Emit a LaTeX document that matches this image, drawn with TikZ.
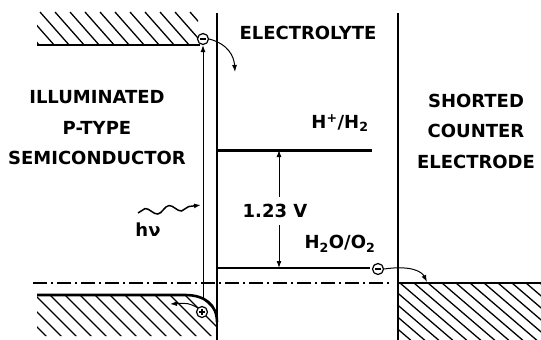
\documentclass[tikz,border=0pt]{standalone}
\usepackage{fontspec}
\setmainfont{DejaVu Sans}
\usetikzlibrary{arrows.meta,decorations.pathmorphing}

\begin{document}
\begin{tikzpicture}[x=1pt, y=-1pt,
  txt/.style={font=\fontsize{18}{30.5}\selectfont\bfseries, align=center, inner sep=0pt},
  band/.style={line width=2.6pt},
  wall/.style={line width=1.2pt},
  hatch/.style={line width=1.3pt},
  charge/.style={circle, draw, line width=1.2pt, fill=white, inner sep=0pt, minimum size=11pt},
  electron/.style={charge, path picture={
      \draw[line width=1.3pt] ([xshift=2.5pt]path picture bounding box.west)
        -- ([xshift=-2.5pt]path picture bounding box.east);}},
  hole/.style={charge, path picture={
      \draw[line width=1.3pt] ([xshift=2.5pt]path picture bounding box.west)
        -- ([xshift=-2.5pt]path picture bounding box.east);
      \draw[line width=1.3pt] ([yshift=-2.5pt]path picture bounding box.north)
        -- ([yshift=2.5pt]path picture bounding box.south);}},
  ar/.style={-{Latex[length=7pt,width=5pt]}, line width=1pt}
]
\useasboundingbox (0,0) rectangle (541,340);

% hatched band regions
\begin{scope}
  \clip (37,10) rectangle (198,45);
  \foreach \x in {10,25,...,205} \draw[hatch] (\x,12) -- ++(30,34);
\end{scope}
\begin{scope}
  \clip (37,295) -- (185,295) .. controls (205,295) and (217,305) .. (217,322)
        -- (217,336) -- (37,336) -- cycle;
  \foreach \x in {-10,5,...,220} \draw[hatch] (\x,295) -- ++(45,45);
\end{scope}
\begin{scope}
  \clip (398,283) rectangle (541,340);
  \foreach \x in {330,344,...,541} \draw[hatch] (\x,283) -- ++(70,60);
\end{scope}

% interfaces and levels
\draw[wall] (217,13) -- (217,340);
\draw[wall] (398,13) -- (398,340);
\draw[band] (37,45) -- (200,45);
\draw[band] (37,295) -- (185,295) .. controls (205,295) and (217,305) .. (217,322);
\draw[band] (398,283) -- (541,283);
\draw[line width=1.3pt, dash pattern=on 14pt off 4pt on 2pt off 4pt] (33,283) -- (392,283);
\draw[line width=3pt] (217,150) -- (372,150);
\draw[line width=2.2pt] (217,268) -- (370,268);

\coordinate (hp) at (279,150);
\coordinate (ho) at (279,268);
\coordinate (vb) at (203,299);

% labels
\node[txt] (semi) at (97,128) {ILLUMINATED\\P-TYPE\\SEMICONDUCTOR};
\node[txt] (ctr) at (476,131) {SHORTED\\COUNTER\\ELECTRODE};
\node[txt] (elyte) at (308,33) {ELECTROLYTE};
\node[txt] (hh) at (340,123) {H\textsuperscript{+}/H\textsubscript{2}};
\node[txt] (ho2) at (340,244) {H\textsubscript{2}O/O\textsubscript{2}};
\node[txt, inner sep=7pt] (volt) at (275,211) {1.23 V};
\node[txt] (hnu) at (148,230) {hν};

% carriers
\node[electron] (e1) at (203,39) {};
\node[hole] (h1) at (202,312) {};
\node[electron] (e2) at (378,269) {};

% arrows
\draw[ar] (volt.north -| hp) -- (hp);
\draw[ar] (volt.south -| ho) -- (ho);
\draw[ar] (vb) -- (e1);
\draw[ar] (e1.east) .. controls (228,44) and (234,56) .. (235,72);
\draw[ar] (h1.north west) .. controls (188,303) .. (170,304);
\draw[ar] (e2.east) .. controls (412,265) and (422,272) .. (427,282);
\draw[ar, line width=1.5pt, decorate,
      decoration={snake, amplitude=3.5pt, segment length=24pt, post length=7pt}]
  (138,213) -- (201,205);
\end{tikzpicture}
\end{document}
